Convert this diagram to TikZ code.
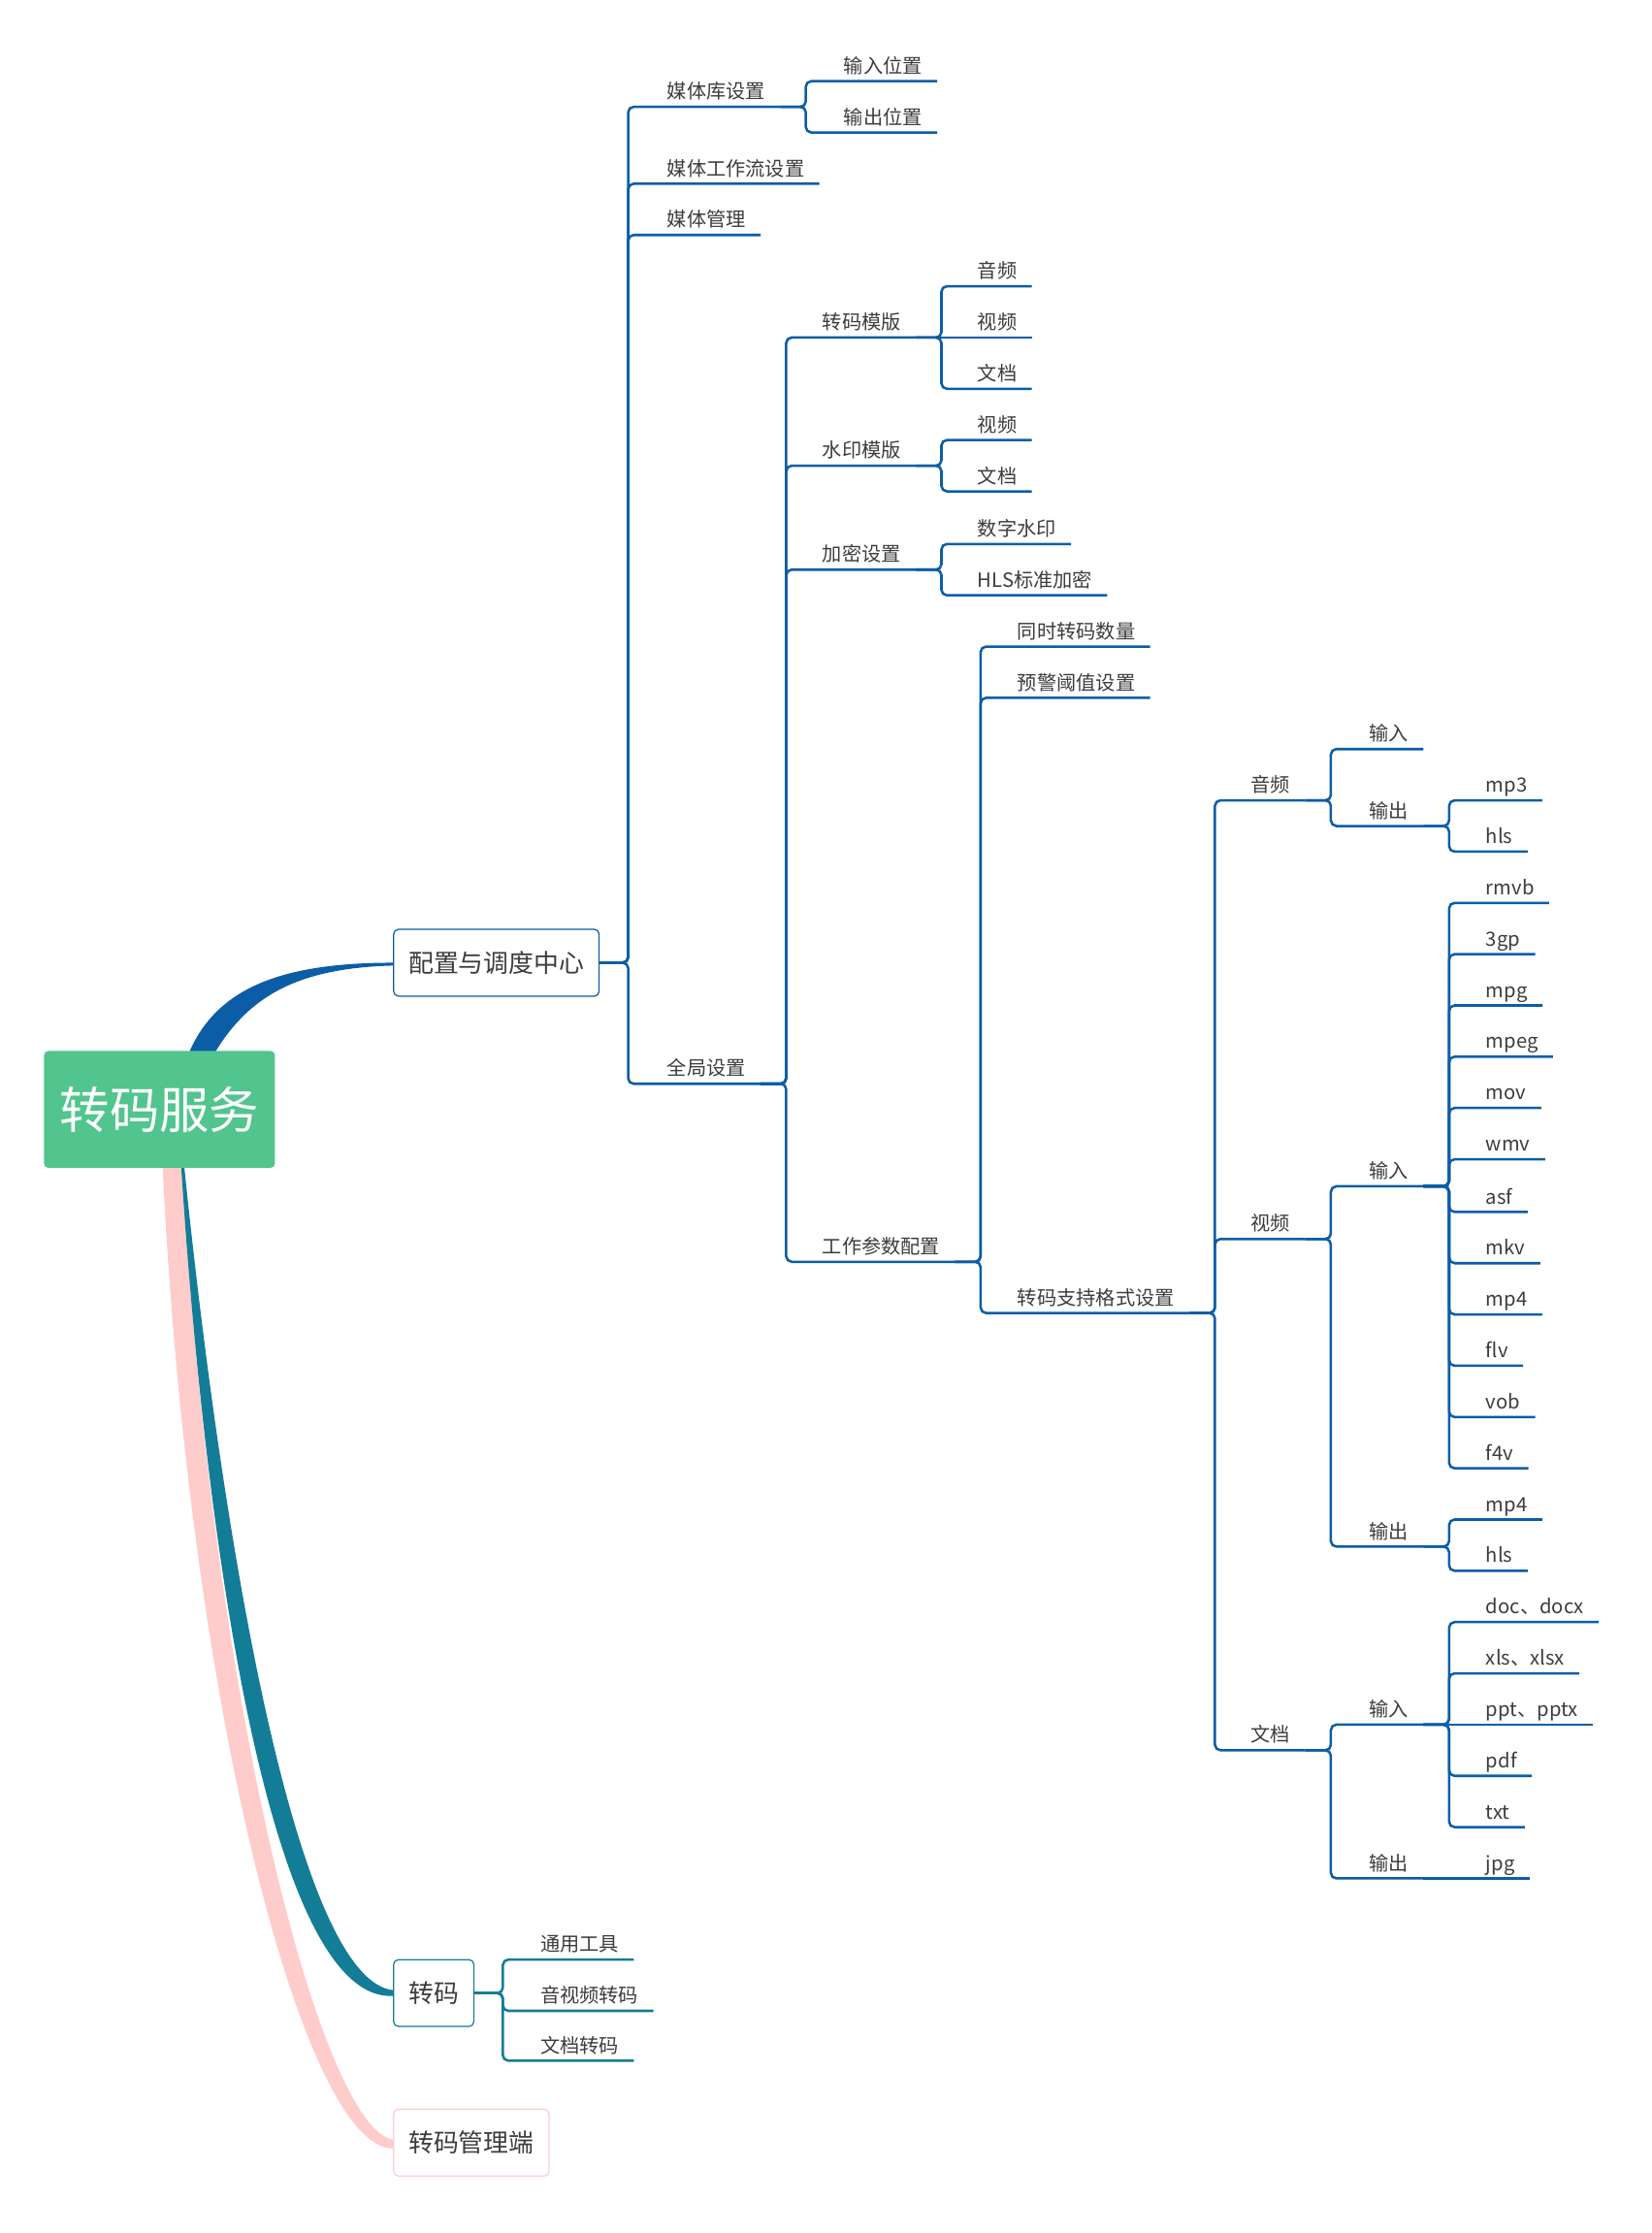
\documentclass[tikz,border=0pt]{standalone}
\usepackage{fontspec}
\setmainfont{Noto Sans CJK SC}
\usetikzlibrary{shapes, arrows, positioning, backgrounds}

\definecolor{mapblue}{HTML}{0B5DA6}
\definecolor{mapteal}{HTML}{137C96}
\definecolor{mappink}{HTML}{FFCCCC}
\definecolor{mapgreen}{HTML}{52C48D}
\definecolor{maptext}{HTML}{3C3C3C}

\begin{document}
\begin{tikzpicture}[x=0.014681cm, y=-0.014681cm,
	topic/.style={anchor=south west, inner xsep=4.18pt, inner ysep=0.75pt, text height=5.1pt, text depth=1.43pt, font=\fontsize{5.75pt}{6pt}\selectfont, text=maptext},
	mainbox/.style={rectangle, draw, rounded corners=1.4pt, fill=white, line width=0.35pt, anchor=west, inner xsep=4.4pt, minimum height=19.6pt, font=\fontsize{7.35pt}{8pt}\selectfont, text=maptext},
	fork/.style={rounded corners=1.6pt, to path={-- ++(#1,0) |- (\tikztotarget)}},
	fork/.default=18,
	bline/.style={color=mapblue, line width=0.72pt},
	tline/.style={color=mapteal, line width=0.72pt}]
			\useasboundingbox (0,0) rectangle (1160,1568);
			
			\node (service) [rectangle, fill=mapgreen, rounded corners=1.2pt, text=white, inner xsep=4.6pt, minimum height=34.25pt, font=\fontsize{14.62pt}{16pt}\selectfont] at (112,779) {转码服务};
			\node (config) [mainbox, draw=mapblue] at (276,676) {配置与调度中心};
			\node (transcode) [mainbox, draw=mapteal] at (276,1399.5) {转码};
			\node (manager) [mainbox, draw=mappink] at (276,1504.5) {转码管理端};
			
			\node (libset) [topic] at (458,75) {媒体库设置};
			\node (inpos) [topic] at (582,57) {输入位置};
			\node (outpos) [topic] at (582,93) {输出位置};
			\node (flowset) [topic] at (458,129) {媒体工作流设置};
			\node (mediamgr) [topic] at (458,165) {媒体管理};
			\node (globalset) [topic] at (458,761) {全局设置};
			\node (tplset) [topic] at (567,237) {转码模版};
			\node (tplaudio) [topic] at (676,201) {音频};
			\node (tplvideo) [topic] at (676,237) {视频};
			\node (tpldoc) [topic] at (676,273) {文档};
			\node (wmset) [topic] at (567,327) {水印模版};
			\node (wmvideo) [topic] at (676,309) {视频};
			\node (wmdoc) [topic] at (676,345) {文档};
			\node (encset) [topic] at (567,400) {加密设置};
			\node (digitalwm) [topic] at (676,382) {数字水印};
			\node (hlsenc) [topic] at (676,418) {HLS标准加密};
			\node (workset) [topic] at (567,886) {工作参数配置};
			\node (concurrent) [topic] at (704,454) {同时转码数量};
			\node (threshold) [topic] at (704,490) {预警阈值设置};
			\node (formats) [topic] at (704,922) {转码支持格式设置};
			\node (faudio) [topic] at (868,562) {音频};
			\node (fvideo) [topic] at (868,870) {视频};
			\node (fdoc) [topic] at (868,1229) {文档};
			\node (ain) [topic] at (951,526) {输入};
			\node (aout) [topic] at (951,580) {输出};
			\node (amp3) [topic] at (1033,562) {mp3};
			\node (ahls) [topic] at (1033,598) {hls};
			\node (vin) [topic] at (951,833) {输入};
			\node (vout) [topic] at (951,1086) {输出};
			\node (vrmvb) [topic] at (1033,634) {rmvb};
			\node (v3gp) [topic] at (1033,670) {3gp};
			\node (vmpg) [topic] at (1033,706) {mpg};
			\node (vmpeg) [topic] at (1033,742) {mpeg};
			\node (vmov) [topic] at (1033,778) {mov};
			\node (vwmv) [topic] at (1033,814) {wmv};
			\node (vasf) [topic] at (1033,851) {asf};
			\node (vmkv) [topic] at (1033,887) {mkv};
			\node (vmpfour) [topic] at (1033,923) {mp4};
			\node (vflv) [topic] at (1033,959) {flv};
			\node (vvob) [topic] at (1033,995) {vob};
			\node (vffourv) [topic] at (1033,1031) {f4v};
			\node (omp4) [topic] at (1033,1067) {mp4};
			\node (ohls) [topic] at (1033,1103) {hls};
			\node (din) [topic] at (951,1211) {输入};
			\node (dout) [topic] at (951,1319) {输出};
			\node (ddoc) [topic] at (1033,1139) {doc、docx};
			\node (dxls) [topic] at (1033,1175) {xls、xlsx};
			\node (dppt) [topic] at (1033,1211) {ppt、pptx};
			\node (dpdf) [topic] at (1033,1247) {pdf};
			\node (dtxt) [topic] at (1033,1283) {txt};
			\node (djpg) [topic] at (1033,1319) {jpg};
			\node (tool) [topic] at (369,1376) {通用工具};
			\node (avtrans) [topic] at (369,1412) {音视频转码};
			\node (doctrans) [topic] at (369,1447) {文档转码};
			
			\begin{scope}[on background layer]
			\fill[mapblue] ([shift={(14,-19)}]service.center) .. controls (140,700) and (185,676) .. (config.west)
			-- ([shift={(0,2)}]config.west) .. controls (200,680) and (165,705) .. ([shift={(28,-19)}]service.center) -- cycle;
			\fill[mappink] ([shift={(2,-5)}]service.south) .. controls (132,1200) and (214,1510) .. ([shift={(0,4)}]manager.west)
			-- ([shift={(0,-2)}]manager.west) .. controls (226,1494) and (148,1200) .. ([shift={(16,-5)}]service.south) -- cycle;
			\fill[mapteal] ([shift={(15,-5)}]service.south) .. controls (145,1100) and (192,1406) .. ([shift={(0,2)}]transcode.west)
			-- ([shift={(0,-2)}]transcode.west) .. controls (210,1390) and (158,1100) .. ([shift={(17,-5)}]service.south) -- cycle;
			\end{scope}
			
			\path[bline] (config.east) edge[fork=20] (libset.south east)
			(config.east) edge[fork=20] (flowset.south east)
			(config.east) edge[fork=20] (mediamgr.south east)
			(config.east) edge[fork=20] (globalset.south east)
			(libset.south east) edge[fork] (inpos.south east)
			(libset.south east) edge[fork] (outpos.south east)
			(globalset.south east) edge[fork] (tplset.south east)
			(globalset.south east) edge[fork] (wmset.south east)
			(globalset.south east) edge[fork] (encset.south east)
			(globalset.south east) edge[fork] (workset.south east)
			(tplset.south east) edge[fork] (tplaudio.south east)
			(tplset.south east) edge (tplvideo.south east)
			(tplset.south east) edge[fork] (tpldoc.south east)
			(wmset.south east) edge[fork] (wmvideo.south east)
			(wmset.south east) edge[fork] (wmdoc.south east)
			(encset.south east) edge[fork] (digitalwm.south east)
			(encset.south east) edge[fork] (hlsenc.south east)
			(workset.south east) edge[fork] (concurrent.south east)
			(workset.south east) edge[fork] (threshold.south east)
			(workset.south east) edge[fork] (formats.south east)
			(formats.south east) edge[fork] (faudio.south east)
			(formats.south east) edge[fork] (fvideo.south east)
			(formats.south east) edge[fork] (fdoc.south east)
			(faudio.south east) edge[fork] (ain.south east)
			(faudio.south east) edge[fork] (aout.south east)
			(aout.south east) edge[fork] (amp3.south east)
			(aout.south east) edge[fork] (ahls.south east)
			(fvideo.south east) edge[fork] (vin.south east)
			(fvideo.south east) edge[fork] (vout.south east)
			(vin.south east) edge[fork] (vrmvb.south east)
			(vin.south east) edge[fork] (v3gp.south east)
			(vin.south east) edge[fork] (vmpg.south east)
			(vin.south east) edge[fork] (vmpeg.south east)
			(vin.south east) edge[fork] (vmov.south east)
			(vin.south east) edge[fork] (vwmv.south east)
			(vin.south east) edge[fork] (vasf.south east)
			(vin.south east) edge[fork] (vmkv.south east)
			(vin.south east) edge[fork] (vmpfour.south east)
			(vin.south east) edge[fork] (vflv.south east)
			(vin.south east) edge[fork] (vvob.south east)
			(vin.south east) edge[fork] (vffourv.south east)
			(vout.south east) edge[fork] (omp4.south east)
			(vout.south east) edge[fork] (ohls.south east)
			(fdoc.south east) edge[fork] (din.south east)
			(fdoc.south east) edge[fork] (dout.south east)
			(din.south east) edge[fork] (ddoc.south east)
			(din.south east) edge[fork] (dxls.south east)
			(din.south east) edge (dppt.south east)
			(din.south east) edge[fork] (dpdf.south east)
			(din.south east) edge[fork] (dtxt.south east)
			(dout.south east) edge (djpg.south east);
			
			\path[tline] (transcode.east) edge[fork=20] (tool.south east)
			(transcode.east) edge[fork=20] (avtrans.south east)
			(transcode.east) edge[fork=20] (doctrans.south east);
		\end{tikzpicture}
\end{document}
